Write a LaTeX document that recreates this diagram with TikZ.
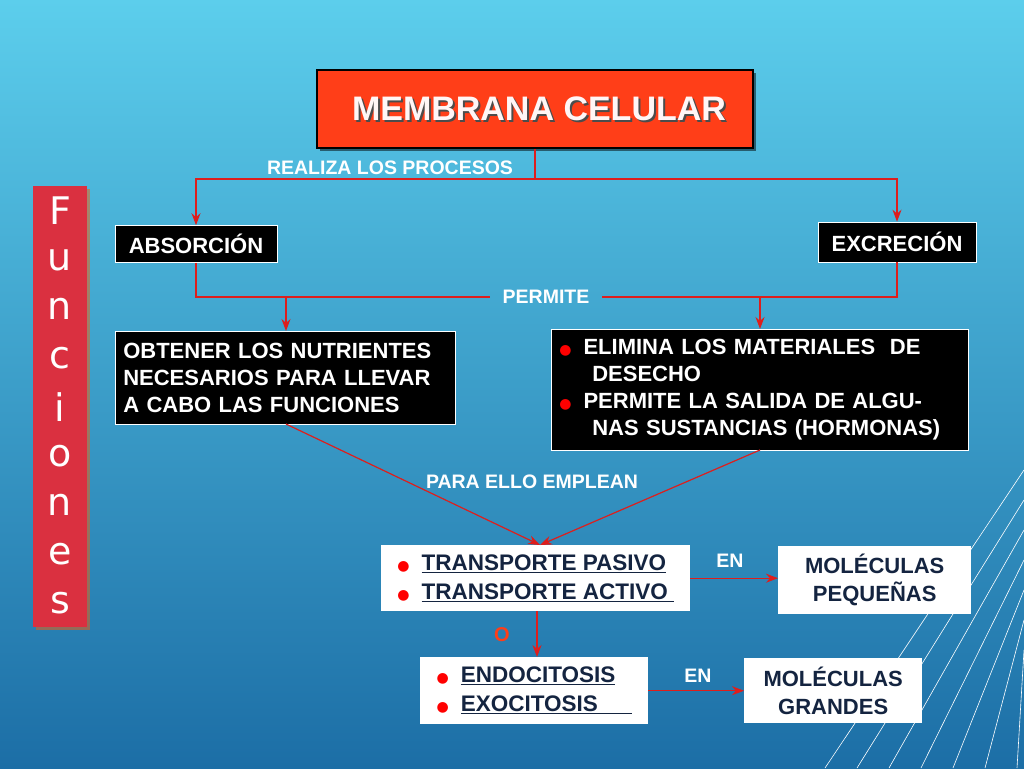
\documentclass[tikz,border=0pt]{standalone}
\usepackage{fontspec}
\setmainfont{Liberation Sans}
\newfontfamily\symfont{DejaVu Sans}
\newfontfamily\comicfont{DejaVu Sans}
\usetikzlibrary{arrows.meta,shadows}
\definecolor{bgtop}{RGB}{92,206,236}
\definecolor{bgbot}{RGB}{28,110,166}
\definecolor{arrred}{RGB}{222,30,28}
\definecolor{titlered}{RGB}{255,62,24}
\definecolor{funcred}{RGB}{218,48,64}
\definecolor{navy}{RGB}{20,36,64}
\newcommand{\bul}{{\color{red}\symfont\fontsize{14}{14}\selectfont ●}}
\tikzset{
  blackbox/.style={draw=white,line width=0.6pt,fill=black,text=white,font=\bfseries\fontsize{22}{27}\selectfont,inner sep=8pt},
  whitebox/.style={draw=none,fill=white,text=navy,font=\bfseries\fontsize{22.5}{29}\selectfont,inner sep=8pt},
  lbl/.style={text=white,font=\bfseries\fontsize{19.5}{22}\selectfont},
  conn/.style={arrred,line width=1.2pt},
  arr/.style={conn,-{Stealth[length=12pt,width=9pt]}}
}
\begin{document}
\begin{tikzpicture}[x=1pt,y=-1pt]
    % background
    \shade[top color=bgtop,bottom color=bgbot] (0,0) rectangle (1024,768);
    \useasboundingbox (0,0) rectangle (1024,768);
    % decoration lines
    \foreach \k in {0,1,...,6}
      \draw[white,line width=0.6pt] (1024,470+\k*30) -- (825+\k*32,768);

    % Text Node
    \node[draw=black,line width=2pt,fill=titlered,minimum width=436pt,minimum height=78pt,
      drop shadow={shadow xshift=3pt,shadow yshift=-3pt,fill=black}] (titulo) at (535,109) {};
    \node[text=black!70,font=\bfseries\fontsize{34}{38}\selectfont] at (541,111) {MEMBRANA CELULAR};
    \node[text=white!85!pink,font=\bfseries\fontsize{34}{38}\selectfont] at (539,109) {MEMBRANA CELULAR};
    % Text Node
    \node[fill=funcred,minimum width=54pt,minimum height=441pt,
      drop shadow={shadow xshift=3pt,shadow yshift=-3pt,fill=orange!70!red}] (func) at (60,406) {};
    \foreach \l [count=\i] in {F,u,n,c,i,o,n,e,s}
      \node[text=white,font=\comicfont\fontsize{38}{38}\selectfont] at (60,162+\i*49) {\l};

    % Text Node
    \node[blackbox,minimum width=162pt,minimum height=37pt] (absorcion) at (196,244) {ABSORCIÓN};
    \node[blackbox,minimum width=158pt,minimum height=40pt] (excrecion) at (897,242) {EXCRECIÓN};
    \node[blackbox,text width=324pt,minimum height=93pt,anchor=north west,align=left] (obtener) at (115,331)
      {OBTENER LOS NUTRIENTES\\NECESARIOS PARA LLEVAR\\A CABO LAS FUNCIONES};
    \node[blackbox,text width=401pt,minimum height=121pt,anchor=north west,align=left] (elimina) at (551,329)
      {\bul\hspace{12pt}\makebox[368pt][s]{ELIMINA LOS MATERIALES \ DE}\\
       \hspace{33pt}DESECHO\\
       \bul\hspace{12pt}\makebox[368pt][s]{PERMITE LA SALIDA DE ALGU-}\\
       \hspace{33pt}NAS SUSTANCIAS (HORMONAS)};
    \node[whitebox,minimum width=309pt,minimum height=66pt,anchor=north west,align=left] (transporte) at (381,545)
      {\bul\hspace{12pt}\underline{TRANSPORTE PASIVO}\\
       \bul\hspace{12pt}\underline{TRANSPORTE ACTIVO\ }};
    \node[whitebox,minimum width=193pt,minimum height=65pt,align=center,anchor=north west,
      font=\bfseries\fontsize{22}{28}\selectfont] (pequenas) at (778,546) {MOLÉCULAS\\PEQUEÑAS};
    \node[whitebox,minimum width=228pt,minimum height=67pt,anchor=north west,align=left] (endo) at (420,657)
      {\bul\hspace{12pt}\underline{ENDOCITOSIS}\\
       \bul\hspace{12pt}\underline{EXOCITOSIS\hspace{34pt}}};
    \node[whitebox,minimum width=178pt,minimum height=65pt,align=center,anchor=north west,
      font=\bfseries\fontsize{22}{28}\selectfont] (grandes) at (744,658) {MOLÉCULAS\\GRANDES};

    % labels
    \node[lbl] (realiza) at (390,168) {REALIZA LOS PROCESOS};
    \node[lbl,inner xsep=12pt] (permite) at (546,297) {PERMITE};
    \node[lbl] (paraello) at (532,482) {PARA ELLO EMPLEAN};
    \node[lbl] (en1) at (730,561) {EN};
    \node[lbl] (en2) at (698,676) {EN};
    \node[text=titlered,font=\bfseries\fontsize{20}{22}\selectfont] (o) at (502,635) {O};

    % connectors
    \coordinate (split) at (535,179);
    \draw[conn] (titulo.south -| split) -- (split);
    \draw[arr] (split) -| (absorcion.north);
    \draw[arr] (split) -| (excrecion.north);
    \draw[conn] (absorcion.south) |- (permite.west);
    \draw[conn] (excrecion.south) |- (permite.east);
    \draw[arr] (286,297) -- (286,331);
    \draw[arr] (760,297) -- (760,329);
    \coordinate (meet) at (540,545);
    \draw[arr] (286,424) -- (meet);
    \draw[arr] (760,450) -- (meet);
    \draw[arr] (transporte.east) -- (transporte.east -| pequenas.west);
    \draw[arr] (transporte.south -| 537,0) -- (endo.north -| 537,0);
    \draw[arr] (endo.east) -- (endo.east -| grandes.west);
\end{tikzpicture}
\end{document}
